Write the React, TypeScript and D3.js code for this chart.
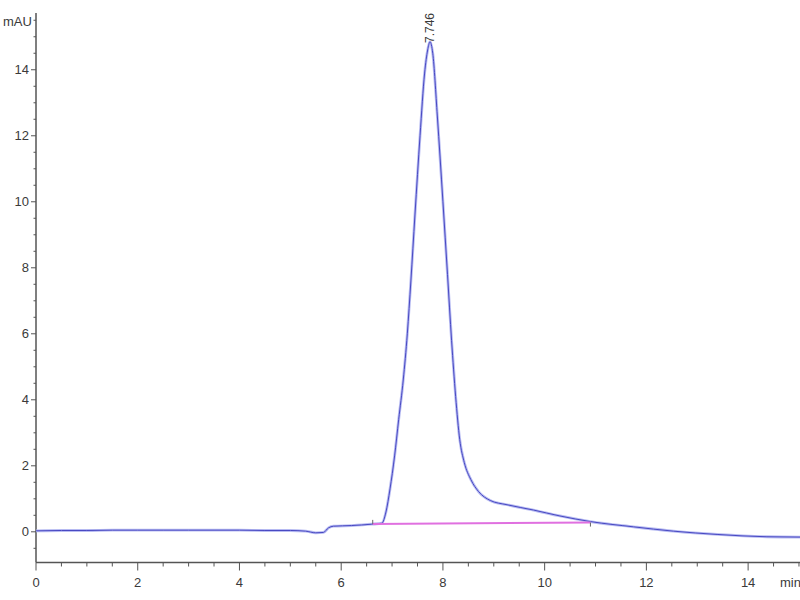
import React, { useEffect, useRef } from 'react';
import * as d3 from 'd3';

// chromatogram trace (time in min, signal in mAU)
const timeMin = [
  0, 0.5, 1.0, 1.5, 2.0, 2.5, 3.0, 3.5, 4.0, 4.5, 5.0, 5.3, 5.5, 5.65, 5.75, 5.85, 6.2, 6.6,
  6.8, 6.88, 6.96, 7.05, 7.13, 7.22, 7.3, 7.37, 7.45, 7.55, 7.64, 7.7, 7.746, 7.8, 7.89,
  8.0, 8.09, 8.17, 8.25, 8.33, 8.42, 8.55, 8.7, 8.93, 9.26, 9.78, 10.3, 10.9, 11.75, 12.53,
  13.39, 14.37, 15.02,
];
const signal = [
  0.03, 0.04, 0.04, 0.05, 0.05, 0.05, 0.05, 0.05, 0.05, 0.04, 0.04, 0.02, -0.03, -0.02, 0.12,
  0.17, 0.19, 0.23, 0.26, 0.6, 1.3, 2.3, 3.4, 4.6, 6.0, 7.6, 9.6, 12.0, 13.9, 14.6, 14.85,
  14.5, 12.6, 10.0, 7.8, 5.8, 4.1, 2.8, 2.1, 1.58, 1.22, 0.95, 0.82, 0.66, 0.48, 0.31, 0.15,
  0.02, -0.08, -0.15, -0.16,
];

// integration baseline
const baseT = [6.62, 10.9];
const baseV = [0.24, 0.28];

const peakTime = 7.746;
const peakLabel = '7.746';

const xMajor = [0, 2, 4, 6, 8, 10, 12, 14];
const yMajor = [0, 2, 4, 6, 8, 10, 12, 14];

const W = 800;
const H = 600;

export default function App() {
  const svgRef = useRef<SVGSVGElement>(null);

  useEffect(() => {
    if (!svgRef.current) return;
    const svg = d3.select(svgRef.current);
    svg.selectAll('*').remove();

    const x = d3.scaleLinear().domain([0, 15.02]).range([36, 800]);
    const y = d3.scaleLinear().domain([-0.93, 15.72]).range([562.5, 13]);

    const axisColor = '#555';
    const textColor = '#3a3a3a';
    const font = 'Liberation Sans, Arial, sans-serif';

    // x axis
    const gx = svg.append('g').attr('transform', `translate(0,${y(-0.93)})`);
    gx.append('line').attr('x1', x(0)).attr('x2', W).attr('stroke', axisColor).attr('stroke-width', 1.5);
    const xMinor = d3.range(0, 15.01, 0.5);
    gx.selectAll('.xt')
      .data(xMinor)
      .enter()
      .append('line')
      .attr('x1', (d) => x(d))
      .attr('x2', (d) => x(d))
      .attr('y1', 0)
      .attr('y2', (d) => (xMajor.includes(d) ? 8 : 4))
      .attr('stroke', axisColor)
      .attr('stroke-width', 1);
    gx.selectAll('.xl')
      .data(xMajor)
      .enter()
      .append('text')
      .attr('x', (d) => x(d))
      .attr('y', 24.5)
      .attr('text-anchor', 'middle')
      .attr('font-family', font)
      .attr('font-size', 13)
      .attr('fill', textColor)
      .text((d) => d);
    // unit label runs off the right edge, as in the original
    gx.append('text')
      .attr('x', 780)
      .attr('y', 24.5)
      .attr('font-family', font)
      .attr('font-size', 13)
      .attr('fill', textColor)
      .text('min');

    // y axis
    const gy = svg.append('g').attr('transform', `translate(${x(0)},0)`);
    gy.append('line').attr('y1', y(15.72)).attr('y2', y(-0.93)).attr('stroke', axisColor).attr('stroke-width', 1.5);
    const yMinor = d3.range(-0.5, 15.6, 0.5);
    gy.selectAll('.yt')
      .data(yMinor)
      .enter()
      .append('line')
      .attr('y1', (d) => y(d))
      .attr('y2', (d) => y(d))
      .attr('x1', 0)
      .attr('x2', (d) => (yMajor.includes(d) ? -5 : -2.5))
      .attr('stroke', axisColor)
      .attr('stroke-width', 1);
    gy.selectAll('.yl')
      .data(yMajor)
      .enter()
      .append('text')
      .attr('x', -7)
      .attr('y', (d) => y(d))
      .attr('dy', '0.35em')
      .attr('text-anchor', 'end')
      .attr('font-family', font)
      .attr('font-size', 13)
      .attr('fill', textColor)
      .text((d) => d);
    svg.append('text')
      .attr('x', 3)
      .attr('y', 26)
      .attr('font-family', font)
      .attr('font-size', 13)
      .attr('fill', textColor)
      .text('mAU');

    // trace
    const pts = timeMin.map((t, i) => [t, signal[i]] as [number, number]);
    const line = d3
      .line<[number, number]>()
      .x((d) => x(d[0]))
      .y((d) => y(d[1]))
      .curve(d3.curveMonotoneX);

    svg.append('path').attr('d', line(pts)).attr('fill', 'none').attr('stroke', '#b8bcf2').attr('stroke-width', 2.8);
    svg.append('path').attr('d', line(pts)).attr('fill', 'none').attr('stroke', '#4848c2').attr('stroke-width', 1);

    // integration baseline
    const bl = baseT.map((t, i) => [t, baseV[i]] as [number, number]);
    svg.append('path')
      .attr('d', d3.line<[number, number]>().x((d) => x(d[0])).y((d) => y(d[1]))(bl))
      .attr('stroke', '#e070e0')
      .attr('stroke-width', 2)
      .attr('fill', 'none');
    svg.append('line')
      .attr('x1', x(baseT[0])).attr('x2', x(baseT[0]))
      .attr('y1', y(baseV[0]) - 4).attr('y2', y(baseV[0]))
      .attr('stroke', '#666').attr('stroke-width', 1);
    svg.append('line')
      .attr('x1', x(baseT[1])).attr('x2', x(baseT[1]))
      .attr('y1', y(baseV[1])).attr('y2', y(baseV[1]) + 4)
      .attr('stroke', '#666').attr('stroke-width', 1);

    // peak label
    const px = x(peakTime) + 4;
    svg.append('text')
      .attr('transform', `translate(${px},43) rotate(-90)`)
      .attr('font-family', font)
      .attr('font-size', 12)
      .attr('fill', textColor)
      .text(peakLabel);
  }, []);

  return (
    <svg
      ref={svgRef}
      width={W}
      height={H}
      style={{ position: 'absolute', left: 0, top: 0, background: '#fff' }}
    />
  );
}
